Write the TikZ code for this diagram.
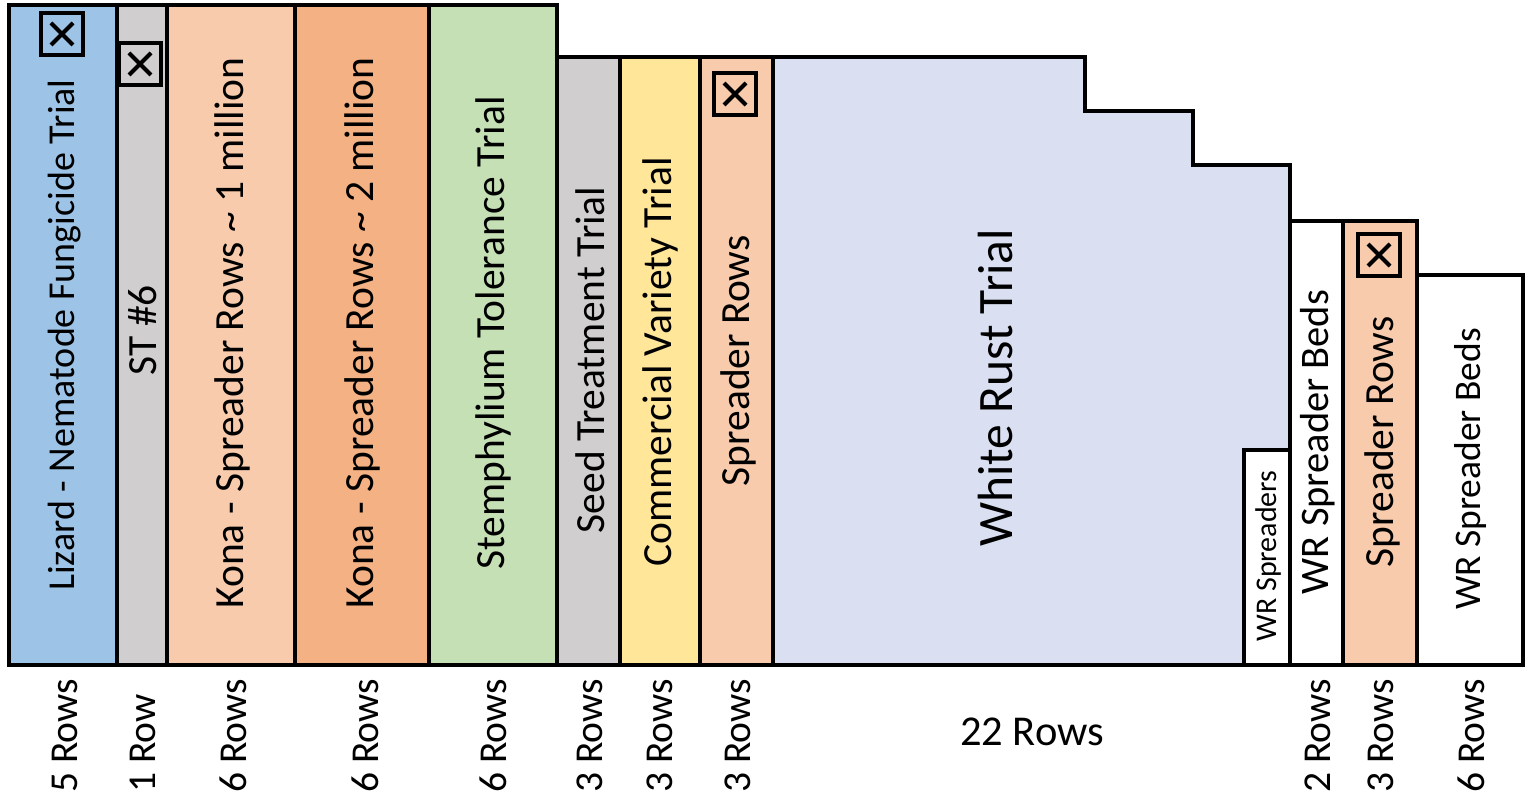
\documentclass[tikz,border=0pt]{standalone}
\usepackage{fontspec}
\setmainfont{Carlito}
\definecolor{cblue}{HTML}{9DC3E6}
\definecolor{cgray}{HTML}{D0CECE}
\definecolor{cpeach}{HTML}{F8CBAD}
\definecolor{corange}{HTML}{F4B183}
\definecolor{cgreen}{HTML}{C5E0B4}
\definecolor{cyellow}{HTML}{FFE699}
\definecolor{clav}{HTML}{DAE0F2}
\begin{document}
\begin{tikzpicture}[x=1pt,y=-1pt,line join=miter,
  col/.style={draw=black,line width=4pt},
  lab/.style={rotate=90,inner sep=0pt,font=\fontsize{41.5}{48}\selectfont},
  smalllab/.style={rotate=90,inner sep=0pt,font=\fontsize{30}{35}\selectfont},
  biglab/.style={rotate=90,inner sep=0pt,font=\fontsize{49.5}{56}\selectfont},
  rowlab/.style={rotate=90,anchor=west,inner sep=0pt,font=\fontsize{39.5}{46}\selectfont},
  xbox/.style={draw=black,line width=4pt,minimum size=42pt,inner sep=0pt},
  xcross/.style={line width=4pt}]
\useasboundingbox (0,0) rectangle (1526,802);
\fill[white] (0,0) rectangle (1526,802);
% columns
\draw[col,fill=cblue]   (9,5)   rectangle (117,665);
\draw[col,fill=cgray]   (117,5) rectangle (167,665);
\draw[col,fill=cpeach]  (167,5) rectangle (295,665);
\draw[col,fill=corange] (295,5) rectangle (429,665);
\draw[col,fill=cgreen]  (429,5) rectangle (557,665);
\draw[col,fill=cgray]   (557,57) rectangle (620,665);
\draw[col,fill=cyellow] (620,57) rectangle (700,665);
\draw[col,fill=cpeach]  (700,57) rectangle (773,665);
\draw[col,fill=clav] (773,57) -- (1085,57) -- (1085,111) -- (1193,111) -- (1193,165)
   -- (1290,165) -- (1290,665) -- (773,665) -- cycle;
\draw[col,fill=white]  (1244,450) rectangle (1290,665);
\draw[col,fill=white]  (1290,221) rectangle (1343,665);
\draw[col,fill=cpeach] (1343,221) rectangle (1417,665);
\draw[col,fill=white]  (1417,275) rectangle (1523,665);
% boxes with crosses
\node[xbox] (xa) at (62,34) {};
\node[xbox] (xb) at (140,64) {};
\node[xbox] (xc) at (735,94) {};
\node[xbox] (xd) at (1379,255) {};
\foreach \n in {xa,xb,xc,xd}{
  \draw[xcross] (\n.center) ++(-11,-11) -- ++(22,22);
  \draw[xcross] (\n.center) ++(-11,11) -- ++(22,-22);
}
% labels
\node[lab,font=\fontsize{38}{44}\selectfont] (l1) at (65,335) {Lizard - Nematode Fungicide Trial};
\node[lab] (l2) at (143,330) {ST \#6};
\node[lab] (l3) at (232,333) {Kona - Spreader Rows \textasciitilde{} 1 million};
\node[lab] (l4) at (362,333) {Kona - Spreader Rows \textasciitilde{} 2 million};
\node[lab] (l5) at (493,333) {Stemphylium Tolerance Trial};
\node[lab] (l6) at (590,360) {Seed Treatment Trial};
\node[lab] (l7) at (660,362) {Commercial Variety Trial};
\node[lab] (l8) at (738,361) {Spreader Rows};
\node[biglab] (l9) at (995,388) {White Rust Trial};
\node[smalllab] (l10) at (1268,556) {WR Spreaders};
\node[lab,font=\fontsize{40.5}{46}\selectfont] (l11) at (1318,442) {WR Spreader Beds};
\node[lab] (l12) at (1382,442) {Spreader Rows};
\node[lab,font=\fontsize{37.5}{44}\selectfont] (l13) at (1470,469) {WR Spreader Beds};
% row counts
\node[rowlab] (r1) at (65,793) {5 Rows};
\node[rowlab] (r2) at (143,793) {1 Row};
\node[rowlab] (r3) at (233,793) {6 Rows};
\node[rowlab] (r4) at (365,793) {6 Rows};
\node[rowlab] (r5) at (493,793) {6 Rows};
\node[rowlab] (r6) at (590,793) {3 Rows};
\node[rowlab] (r7) at (660,793) {3 Rows};
\node[rowlab] (r8) at (738,793) {3 Rows};
\node[inner sep=0pt,font=\fontsize{42.5}{50}\selectfont] (r9) at (1032,732) {22 Rows};
\node[rowlab] (r10) at (1318,793) {2 Rows};
\node[rowlab] (r11) at (1381,793) {3 Rows};
\node[rowlab] (r12) at (1471,793) {6 Rows};
\end{tikzpicture}
\end{document}
